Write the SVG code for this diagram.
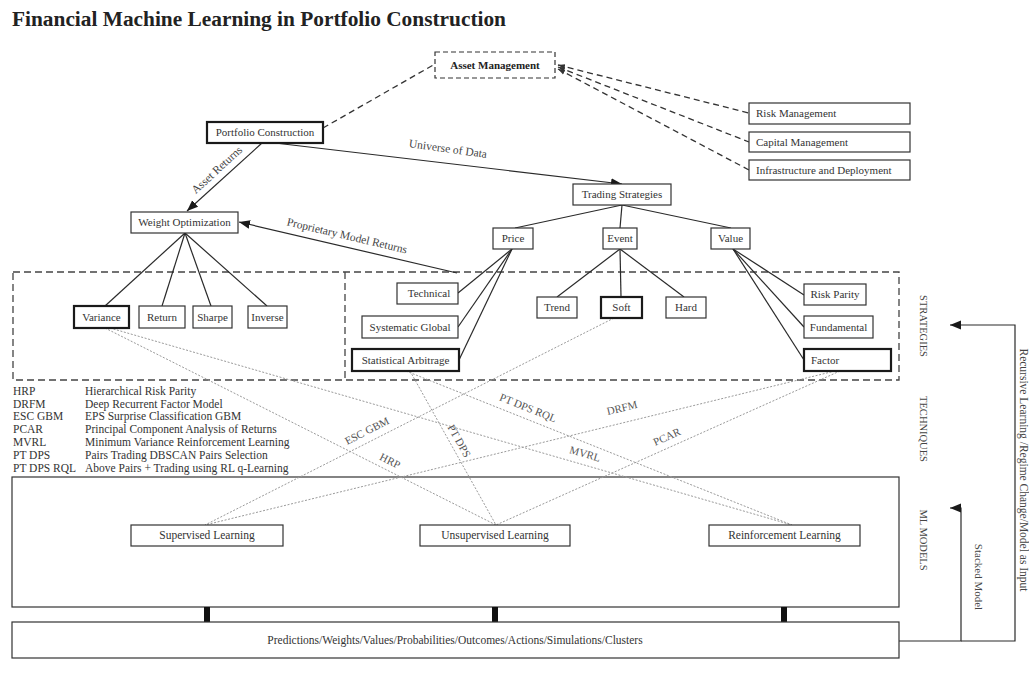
<svg xmlns="http://www.w3.org/2000/svg" width="1029" height="679" viewBox="0 0 1029 679">
  <style>
    text { font-family: "Liberation Serif", "Times New Roman", serif; fill: #333; }
    .box { fill: #fff; stroke: #333; stroke-width: 1.2; }
    .thick { stroke: #1a1a1a; stroke-width: 2.2; }
    .dbox { fill: #fff; stroke: #333; stroke-width: 1.2; stroke-dasharray: 5 3; }
    .region { fill: none; stroke: #444; stroke-width: 1.3; stroke-dasharray: 7 4; }
    .lbl { font-size: 11px; text-anchor: middle; }
    .lft { font-size: 11px; text-anchor: start; }
    .ml { font-size: 11.5px; text-anchor: middle; }
    .edge { fill: none; stroke: #2a2a2a; stroke-width: 1.2; }
    .dash { fill: none; stroke: #333; stroke-width: 1.3; stroke-dasharray: 6 4; }
    .dot { fill: none; stroke: #9a9a9a; stroke-width: 1; stroke-dasharray: 2 1.6; }
    .elbl { font-size: 11.5px; text-anchor: middle; fill: #444; }
    .tlbl { font-size: 11px; text-anchor: middle; fill: #555; }
    .side { font-size: 10.5px; text-anchor: middle; fill: #444; }
    .leg { font-size: 11.5px; fill: #333; }
    .bar { fill: #111; }
  </style>
  <defs>
    <marker id="arr" viewBox="0 0 10 10" refX="10" refY="5" markerWidth="11" markerHeight="11" markerUnits="userSpaceOnUse" orient="auto">
      <path d="M0,1 L10,5 L0,9 z" fill="#1a1a1a"/>
    </marker>
    <marker id="sarr" viewBox="0 0 10 10" refX="10" refY="5" markerWidth="7" markerHeight="7" markerUnits="userSpaceOnUse" orient="auto-start-reverse">
      <path d="M0,1.5 L10,5 L0,8.5 z" fill="#333"/>
    </marker>
  </defs>

  <rect width="1029" height="679" fill="#fff"/>

  <text x="12" y="26" font-size="20" font-weight="bold" textLength="494" lengthAdjust="spacingAndGlyphs" style="fill:#222">Financial Machine Learning in Portfolio Construction</text>

  <!-- strategy region: dashed frame split in two -->
  <g id="strategy-region">
    <rect class="region" x="13" y="272" width="886" height="108"/>
    <line class="region" x1="345" y1="272" x2="345" y2="380"/>
  </g>

  <!-- ML model region -->
  <g id="ml-region">
    <rect class="box" x="12" y="477" width="887" height="130" fill="none"/>
  </g>

  <g id="connectors">
    <!-- asset management links -->
    <line class="dash" x1="323" y1="128" x2="435" y2="64"/>
    <line class="dash" x1="558" y1="65" x2="749" y2="113" marker-start="url(#sarr)"/>
    <line class="dash" x1="558" y1="67" x2="749" y2="142" marker-start="url(#sarr)"/>
    <line class="dash" x1="558" y1="69" x2="749" y2="170" marker-start="url(#sarr)"/>

    <!-- top level flows -->
    <line class="edge" x1="262" y1="143" x2="187" y2="211" marker-end="url(#arr)"/>
    <line class="edge" x1="275" y1="143" x2="622" y2="184" marker-end="url(#arr)"/>
    <line class="edge" x1="457" y1="273" x2="239" y2="222" marker-end="url(#arr)"/>

    <!-- trading strategies tree -->
    <line class="edge" x1="622" y1="205" x2="515" y2="228"/>
    <line class="edge" x1="622" y1="205" x2="620" y2="228"/>
    <line class="edge" x1="622" y1="205" x2="731" y2="228"/>

    <line class="edge" x1="512" y1="249" x2="458" y2="293"/>
    <line class="edge" x1="512" y1="249" x2="458" y2="327"/>
    <line class="edge" x1="512" y1="249" x2="459" y2="360"/>

    <line class="edge" x1="620" y1="249" x2="557" y2="297"/>
    <line class="edge" x1="620" y1="249" x2="621" y2="297"/>
    <line class="edge" x1="620" y1="249" x2="684" y2="297"/>

    <line class="edge" x1="733" y1="249" x2="804" y2="295"/>
    <line class="edge" x1="733" y1="249" x2="804" y2="327"/>
    <line class="edge" x1="733" y1="249" x2="804" y2="360"/>

    <!-- weight optimization tree -->
    <line class="edge" x1="185" y1="233" x2="105" y2="306"/>
    <line class="edge" x1="185" y1="233" x2="162" y2="306"/>
    <line class="edge" x1="185" y1="233" x2="211" y2="306"/>
    <line class="edge" x1="185" y1="233" x2="267" y2="306"/>

    <!-- techniques linking strategies to ML models -->
    <line class="dot" x1="105" y1="328" x2="496" y2="525"/>
    <line class="dot" x1="110" y1="328" x2="792" y2="525"/>
    <line class="dot" x1="614" y1="318" x2="205" y2="525"/>
    <line class="dot" x1="410" y1="371" x2="496" y2="525"/>
    <line class="dot" x1="406" y1="371" x2="792" y2="525"/>
    <line class="dot" x1="835" y1="371" x2="205" y2="525"/>
    <line class="dot" x1="840" y1="371" x2="496" y2="525"/>

    <!-- output bars -->
    <rect class="bar" x="204" y="607" width="6" height="15"/>
    <rect class="bar" x="492" y="607" width="6" height="15"/>
    <rect class="bar" x="781" y="607" width="6" height="15"/>

    <!-- feedback loops -->
    <polyline class="edge" points="899,641 961,641 961,508 950,508" marker-end="url(#arr)"/>
    <polyline class="edge" points="961,641 1015,641 1015,325 950,325" marker-end="url(#arr)"/>
  </g>

  <!-- connector labels -->
  <g id="edge-labels">
    <text class="elbl" transform="translate(217,170) rotate(-42.6)" y="3.5">Asset Returns</text>
    <text class="elbl" transform="translate(448,149) rotate(8)" y="3.5">Universe of Data</text>
    <text class="elbl" transform="translate(347,236) rotate(13.2)" y="3.5">Proprietary Model Returns</text>

    <text class="tlbl" transform="translate(390,461) rotate(26.7)" y="3.5">HRP</text>
    <text class="tlbl" transform="translate(585,454) rotate(16.1)" y="3.5">MVRL</text>
    <text class="tlbl" transform="translate(367,431) rotate(-26.8)" y="3.5">ESC GBM</text>
    <text class="tlbl" transform="translate(459,441) rotate(60.8)" y="3.5">PT DPS</text>
    <text class="tlbl" transform="translate(528,408) rotate(22)" y="3.5">PT DPS RQL</text>
    <text class="tlbl" transform="translate(622,408) rotate(-13.7)" y="3.5">DRFM</text>
    <text class="tlbl" transform="translate(667,437) rotate(-24.2)" y="3.5">PCAR</text>

    <text class="side" transform="translate(920,326) rotate(90)">STRATEGIES</text>
    <text class="side" transform="translate(920,429) rotate(90)">TECHNIQUES</text>
    <text class="side" transform="translate(920,540) rotate(90)">ML MODELS</text>
    <text class="side" transform="translate(975,577) rotate(90)" style="font-size:11px">Stacked Model</text>
    <text class="side" transform="translate(1020,470) rotate(90)" style="font-size:11.5px">Recursive Learning /Regime Change/Model as Input</text>
  </g>

  <!-- nodes -->
  <g id="asset-management">
    <rect class="dbox" x="435" y="52" width="120" height="26"/>
    <text class="lbl" x="495" y="69" font-weight="bold" style="fill:#222">Asset Management</text>
  </g>
  <g id="risk-management">
    <rect class="box" x="749" y="103" width="161" height="21"/>
    <text class="lft" x="756" y="117">Risk Management</text>
  </g>
  <g id="capital-management">
    <rect class="box" x="749" y="132" width="161" height="20"/>
    <text class="lft" x="756" y="146">Capital Management</text>
  </g>
  <g id="infrastructure">
    <rect class="box" x="749" y="160" width="161" height="20"/>
    <text class="lft" x="756" y="174">Infrastructure and Deployment</text>
  </g>

  <g id="portfolio-construction">
    <rect class="box thick" x="207" y="122" width="116" height="21"/>
    <text class="lbl" x="265" y="136">Portfolio Construction</text>
  </g>
  <g id="weight-optimization">
    <rect class="box" x="131" y="212" width="107" height="21"/>
    <text class="lbl" x="184.5" y="226">Weight Optimization</text>
  </g>
  <g id="trading-strategies">
    <rect class="box" x="573" y="184" width="98" height="21"/>
    <text class="lbl" x="622" y="198">Trading Strategies</text>
  </g>
  <g id="price">
    <rect class="box" x="493" y="228" width="40" height="21"/>
    <text class="lbl" x="513" y="242">Price</text>
  </g>
  <g id="event">
    <rect class="box" x="603" y="228" width="34" height="21"/>
    <text class="lbl" x="620" y="242">Event</text>
  </g>
  <g id="value">
    <rect class="box" x="711" y="228" width="39" height="21"/>
    <text class="lbl" x="730.5" y="242">Value</text>
  </g>

  <g id="variance">
    <rect class="box thick" x="74" y="306" width="55" height="22"/>
    <text class="lbl" x="101.5" y="321">Variance</text>
  </g>
  <g id="return">
    <rect class="box" x="139" y="306" width="46" height="22"/>
    <text class="lbl" x="162" y="321">Return</text>
  </g>
  <g id="sharpe">
    <rect class="box" x="193" y="306" width="39" height="22"/>
    <text class="lbl" x="212.5" y="321">Sharpe</text>
  </g>
  <g id="inverse">
    <rect class="box" x="248" y="306" width="39" height="22"/>
    <text class="lbl" x="267.5" y="321">Inverse</text>
  </g>

  <g id="technical">
    <rect class="box" x="397" y="283" width="61" height="21"/>
    <text class="lbl" x="429" y="297">Technical</text>
  </g>
  <g id="systematic-global">
    <rect class="box" x="362" y="316" width="96" height="22"/>
    <text class="lbl" x="410" y="331">Systematic Global</text>
  </g>
  <g id="statistical-arbitrage">
    <rect class="box thick" x="352" y="349" width="107" height="22"/>
    <text class="lbl" x="405.5" y="364">Statistical Arbitrage</text>
  </g>

  <g id="trend">
    <rect class="box" x="537" y="297" width="40" height="21"/>
    <text class="lbl" x="557" y="311">Trend</text>
  </g>
  <g id="soft">
    <rect class="box thick" x="601" y="297" width="41" height="21"/>
    <text class="lbl" x="621.5" y="311">Soft</text>
  </g>
  <g id="hard">
    <rect class="box" x="666" y="297" width="40" height="21"/>
    <text class="lbl" x="686" y="311">Hard</text>
  </g>

  <g id="risk-parity">
    <rect class="box" x="804" y="284" width="62" height="21"/>
    <text class="lbl" x="835" y="298">Risk Parity</text>
  </g>
  <g id="fundamental">
    <rect class="box" x="804" y="316" width="69" height="22"/>
    <text class="lbl" x="838.5" y="331">Fundamental</text>
  </g>
  <g id="factor">
    <rect class="box thick" x="804" y="349" width="87" height="22"/>
    <text class="lft" x="811" y="364">Factor</text>
  </g>

  <g id="supervised-learning">
    <rect class="box" x="131" y="525" width="152" height="21"/>
    <text class="ml" x="207" y="539">Supervised Learning</text>
  </g>
  <g id="unsupervised-learning">
    <rect class="box" x="420" y="525" width="150" height="21"/>
    <text class="ml" x="495" y="539">Unsupervised Learning</text>
  </g>
  <g id="reinforcement-learning">
    <rect class="box" x="709" y="525" width="151" height="21"/>
    <text class="ml" x="784.5" y="539">Reinforcement Learning</text>
  </g>

  <g id="outputs">
    <rect class="box" x="12" y="622" width="887" height="36"/>
    <text class="ml" x="455" y="644">Predictions/Weights/Values/Probabilities/Outcomes/Actions/Simulations/Clusters</text>
  </g>

  <!-- abbreviation key -->
  <g id="legend">
    <text class="leg" x="13" y="395">HRP</text>
    <text class="leg" x="85" y="395">Hierarchical Risk Parity</text>
    <text class="leg" x="13" y="408">DRFM</text>
    <text class="leg" x="85" y="408">Deep Recurrent Factor Model</text>
    <text class="leg" x="13" y="420">ESC GBM</text>
    <text class="leg" x="85" y="420">EPS Surprise Classification GBM</text>
    <text class="leg" x="13" y="433">PCAR</text>
    <text class="leg" x="85" y="433">Principal Component Analysis of Returns</text>
    <text class="leg" x="13" y="446">MVRL</text>
    <text class="leg" x="85" y="446">Minimum Variance Reinforcement Learning</text>
    <text class="leg" x="13" y="459">PT DPS</text>
    <text class="leg" x="85" y="459">Pairs Trading DBSCAN Pairs Selection</text>
    <text class="leg" x="13" y="472">PT DPS RQL</text>
    <text class="leg" x="85" y="472">Above Pairs + Trading using RL q-Learning</text>
  </g>
</svg>
